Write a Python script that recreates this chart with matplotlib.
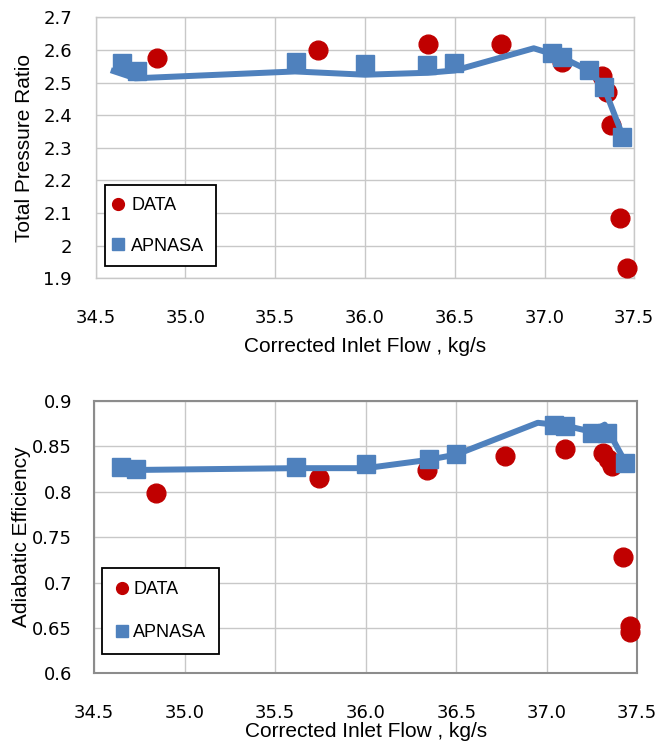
import matplotlib
matplotlib.use("Agg")
import matplotlib.pyplot as plt
from matplotlib.lines import Line2D

# measured compressor map points
data_flow_pr = [34.84, 35.74, 36.35, 36.76, 37.10, 37.32, 37.35, 37.37, 37.42, 37.46]
data_pr = [2.575, 2.600, 2.617, 2.619, 2.563, 2.521, 2.472, 2.370, 2.086, 1.933]

data_flow_eff = [34.84, 35.74, 36.34, 36.77, 37.10, 37.31, 37.34, 37.36, 37.42, 37.46, 37.46]
data_eff = [0.799, 0.815, 0.824, 0.839, 0.847, 0.843, 0.836, 0.828, 0.728, 0.652, 0.646]

# APNASA predictions (markers)
apnasa_flow = [34.645, 34.728, 35.614, 36.00, 36.347, 36.498, 37.04, 37.10, 37.25, 37.33, 37.43]
apnasa_pr = [2.559, 2.536, 2.562, 2.557, 2.554, 2.559, 2.590, 2.577, 2.537, 2.487, 2.334]
apnasa_eff = [0.8277, 0.825, 0.8277, 0.8306, 0.836, 0.8416, 0.8736, 0.8725, 0.8644, 0.8647, 0.832]

# APNASA speedline curves
line_flow_pr = [34.60, 34.72, 35.61, 36.00, 36.35, 36.50, 36.94, 37.04, 37.10, 37.25, 37.33, 37.43]
line_pr = [2.535, 2.513, 2.534, 2.524, 2.530, 2.537, 2.605, 2.588, 2.576, 2.536, 2.487, 2.344]
line_flow_eff = [34.65, 34.72, 35.61, 36.00, 36.34, 36.50, 36.95, 37.04, 37.10, 37.25, 37.32, 37.43]
line_eff = [0.827, 0.824, 0.826, 0.826, 0.835, 0.841, 0.876, 0.874, 0.873, 0.866, 0.874, 0.834]

x_ticks = [34.5, 35.0, 35.5, 36.0, 36.5, 37.0, 37.5]
x_labels = ["34.5", "35.0", "35.5", "36.0", "36.5", "37.0", "37.5"]
pr_ticks = [1.9, 2.0, 2.1, 2.2, 2.3, 2.4, 2.5, 2.6, 2.7]
pr_labels = ["1.9", "2", "2.1", "2.2", "2.3", "2.4", "2.5", "2.6", "2.7"]
eff_ticks = [0.6, 0.65, 0.7, 0.75, 0.8, 0.85, 0.9]
eff_labels = ["0.6", "0.65", "0.7", "0.75", "0.8", "0.85", "0.9"]

RED = "#C00000"
BLUE = "#4F81BD"
GRID = "#C8C8C8"

W, H = 668, 744
fig = plt.figure(figsize=(W / 100, H / 100), dpi=100)

ax1 = fig.add_axes([95.7 / W, 1 - 278.3 / H, 538.6 / W, 261 / H])
ax2 = fig.add_axes([94.3 / W, 1 - 673.3 / H, 543 / W, 272.3 / H])

label_font = dict(family="Liberation Sans", size=15)


def style_axes(ax, yticks, ylabels, edge, edge_lw, ypad):
    ax.set_xlim(34.5, 37.5)
    ax.set_xticks(x_ticks)
    ax.set_xticklabels(x_labels, family="DejaVu Sans")
    ax.set_yticks(yticks)
    ax.set_yticklabels(ylabels, family="DejaVu Sans")
    ax.set_ylim(yticks[0], yticks[-1])
    ax.grid(True, color=GRID, linewidth=1.0)
    ax.set_axisbelow(True)
    ax.tick_params(axis="both", length=0, labelsize=13)
    ax.tick_params(axis="y", pad=ypad)
    ax.tick_params(axis="x", pad=22)
    for s in ax.spines.values():
        s.set_color(edge)
        s.set_linewidth(edge_lw)


style_axes(ax1, pr_ticks, pr_labels, GRID, 1.0, 17)
style_axes(ax2, eff_ticks, eff_labels, "#8C8C8C", 1.5, 16)

# top: pressure ratio
ax1.plot(data_flow_pr, data_pr, "o", color=RED, markersize=13.5, zorder=3, clip_on=False)
ax1.plot(line_flow_pr, line_pr, "-", color=BLUE, linewidth=4.3, zorder=4)
ax1.plot(apnasa_flow, apnasa_pr, "s", color=BLUE, markersize=13.5, zorder=5, clip_on=False)

# bottom: efficiency
ax2.plot(data_flow_eff, data_eff, "o", color=RED, markersize=13.5, zorder=3, clip_on=False)
ax2.plot(line_flow_eff, line_eff, "-", color=BLUE, linewidth=4.3, zorder=4)
ax2.plot(apnasa_flow, apnasa_eff, "s", color=BLUE, markersize=13.5, zorder=5, clip_on=False)

ax1.set_ylabel("Total Pressure Ratio", va="center", **label_font)
ax1.yaxis.set_label_coords((25 - 95.7) / 538.6, 0.5)
ax1.set_xlabel("Corrected Inlet Flow , kg/s", va="center", **label_font)
ax1.xaxis.set_label_coords(0.5, -(346.7 - 278.3) / 261)

ax2.set_ylabel("Adiabatic Efficiency", va="center", **label_font)
ax2.yaxis.set_label_coords((22 - 94.3) / 543, 0.5)
ax2.set_xlabel("Corrected Inlet Flow , kg/s", va="center", **label_font)
ax2.xaxis.set_label_coords(0.5, -(731.7 - 673.3) / 272.3)

handles = [
    Line2D([], [], linestyle="none", marker="o", color=RED, markersize=8.5),
    Line2D([], [], linestyle="none", marker="s", color=BLUE, markersize=9),
]


def add_legend(ax, anchor, bpad, hlen, tpad, spacing):
    leg = ax.legend(handles, ["DATA", "APNASA"], loc="upper left",
                    bbox_to_anchor=anchor, borderaxespad=0, frameon=True,
                    fancybox=False, edgecolor="black", framealpha=1,
                    handlelength=hlen, handletextpad=tpad, borderpad=bpad,
                    labelspacing=spacing,
                    prop=dict(family="Liberation Sans", size=13))
    leg.get_frame().set_linewidth(1.3)
    leg.set_zorder(10)


add_legend(ax1, (9.3 / 538.6, 1 - (185 - 17.3) / 261), 0.66, 0.13, 0.66, 1.31)
add_legend(ax2, (7.7 / 543, (673.3 - 568) / 272.3), 0.73, 0.76, 0.23, 1.445)

fig.savefig("out.png", dpi=100)
